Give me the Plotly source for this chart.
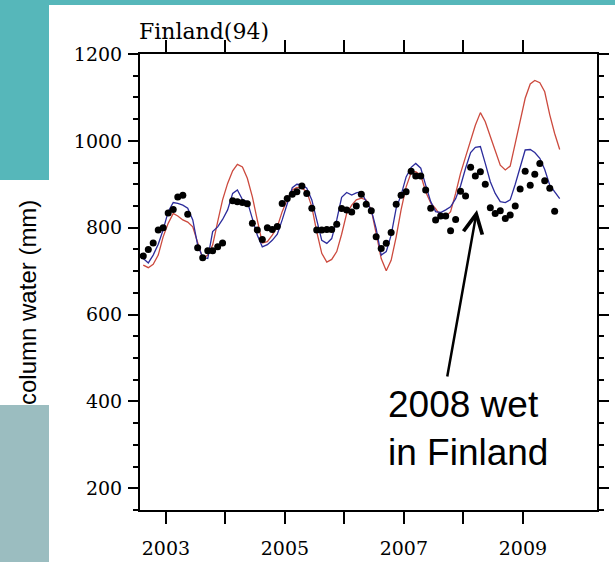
import pandas as pd
import plotly.graph_objects as go

# ---------------- data (monthly, Aug 2002 .. Aug 2009) ----------------
start_month = "2002-08-01"

red_model = [714, 708, 716, 737, 779, 810, 833, 827, 818, 813,
             802, 764, 729, 737, 760, 814, 864, 902, 931, 946,
             940, 914, 871, 818, 765, 768, 783, 802, 837, 865,
             887, 893, 891, 883, 848, 791, 741, 721, 727, 745,
             785, 833, 852, 864, 868, 864, 841, 787, 729, 701,
             725, 779, 841, 894, 927, 929, 921, 883, 857, 844,
             827, 825, 837, 879, 925, 963, 1002, 1036, 1065, 1044,
             1010, 975, 944, 933, 942, 994, 1048, 1098, 1131, 1139,
             1134, 1113, 1060, 1017, 980]

blue_model = [729, 719, 737, 762, 795, 837, 858, 856, 852, 845,
              818, 760, 732, 729, 791, 802, 819, 841, 879, 887,
              865, 860, 821, 783, 756, 761, 771, 785, 818, 856,
              892, 900, 899, 891, 864, 818, 771, 764, 775, 818,
              870, 881, 875, 880, 883, 860, 841, 798, 737, 745,
              783, 845, 875, 917, 939, 948, 937, 898, 860, 837,
              835, 841, 848, 867, 896, 937, 973, 985, 987, 948,
              906, 879, 860, 858, 864, 900, 942, 979, 980, 973,
              960, 934, 898, 883, 867]

obs_dots = [735, 750, 765, 795, 800, 834, 842, 871, 875, 831,
            None, 754, 731, 747, 747, 756, 765, None, 862, 860,
            858, 855, 810, 795, 773, 800, 796, 803, 856, 867,
            877, 883, 896, 879, 845, 795, 795, 796, 796, 808,
            844, 841, 836, 850, 877, 854, 839, 779, 752, 764,
            789, 854, 875, 883, 930, 919, 919, 887, 845, 818,
            827, 827, 793, 819, 884, 873, 939, 919, 929, 900,
            846, 833, 839, 821, 829, 850, 889, 930, 898, 923,
            948, 908, 891, 838]

year_ticks = ["2003-01-01", "2004-01-01", "2005-01-01", "2006-01-01",
              "2007-01-01", "2008-01-01", "2009-01-01"]
year_labels = ["2003", "", "2005", "", "2007", "", "2009"]
y_ticks = [200, 400, 600, 800, 1000, 1200]

line_dates = pd.date_range(start_month, periods=len(red_model), freq="MS") + pd.Timedelta(days=14)
dot_dates = line_dates[:len(obs_dots)]

# ---------------- figure ----------------
ncl_font = "DejaVu Serif"
fig = go.Figure()
fig.add_trace(go.Scatter(x=line_dates, y=red_model, mode="lines",
                         line=dict(color="#cc4a3e", width=1.3)))
fig.add_trace(go.Scatter(x=line_dates, y=blue_model, mode="lines",
                         line=dict(color="#2c2c9c", width=1.3)))
fig.add_trace(go.Scatter(x=dot_dates, y=obs_dots, mode="markers",
                         marker=dict(color="black", size=7)))

W, H = 615, 562
ml, mr, mt, mb = 140, 18, 54, 52
pw, ph = W - ml - mr, H - mt - mb

def px2x(px):
    return (px - ml) / pw

def py2y(py):
    return (H - mb - py) / ph

shapes = [
    dict(type="rect", xref="paper", yref="paper", x0=px2x(-5), x1=px2x(W + 5), y0=py2y(5), y1=py2y(-5),
         fillcolor="#56b7ba", line=dict(width=0), layer="below"),
    dict(type="rect", xref="paper", yref="paper", x0=px2x(-5), x1=px2x(49), y0=py2y(180), y1=py2y(-5),
         fillcolor="#56b7ba", line=dict(width=0), layer="below"),
    dict(type="rect", xref="paper", yref="paper", x0=px2x(-5), x1=px2x(49), y0=py2y(570), y1=py2y(405),
         fillcolor="#9bbdc0", line=dict(width=0), layer="below"),
]

annotations = [
    dict(text="Finland(94)", xref="paper", yref="paper", x=px2x(137), y=py2y(32),
         xanchor="left", yanchor="middle", showarrow=False,
         font=dict(family=ncl_font, size=22, color="black")),
    dict(text="column water (mm)", xref="paper", yref="paper", x=px2x(27), y=py2y(303),
         xanchor="center", yanchor="middle", textangle=-90, showarrow=False,
         font=dict(family="Liberation Sans, Arial", size=24, color="black")),
    dict(text="2008 wet<br>in Finland", xref="paper", yref="paper", x=px2x(386), y=py2y(428),
         xanchor="left", yanchor="middle", align="left", showarrow=False,
         font=dict(family="Liberation Sans, Arial", size=37, color="black")),
    dict(text="", xref="paper", yref="paper", x=px2x(477), y=py2y(210),
         ax=447 - 477, ay=378 - 210, axref="pixel", ayref="pixel",
         showarrow=True, arrowhead=5, arrowsize=1.5, arrowwidth=2.5, arrowcolor="black"),
]

fig.update_layout(
    width=W, height=H,
    margin=dict(l=ml, r=mr, t=mt, b=mb, autoexpand=False),
    paper_bgcolor="white", plot_bgcolor="white",
    showlegend=False,
    shapes=shapes,
    annotations=annotations,
    xaxis=dict(type="date", range=["2002-07-26", "2010-04-01"], automargin=False,
               tickvals=year_ticks, ticktext=year_labels,
               ticks="outside", ticklen=12, tickwidth=1.5, tickcolor="black",
               showline=True, linewidth=2, linecolor="black", mirror="ticks",
               showgrid=False, zeroline=False, ticklabelstandoff=8,
               tickfont=dict(family=ncl_font, size=19, color="black")),
    yaxis=dict(range=[150, 1200], tickvals=y_ticks, automargin=False,
               ticks="outside", ticklen=10, tickwidth=1.5, tickcolor="black",
               minor=dict(dtick=50, ticks="outside", ticklen=5, tickwidth=1.5, tickcolor="black"),
               showline=True, linewidth=2, linecolor="black", mirror="ticks",
               showgrid=False, zeroline=False, ticklabelstandoff=2,
               tickfont=dict(family=ncl_font, size=19, color="black")),
)

fig.write_html("out.html", config={"displayModeBar": False},
               post_script="document.body.style.margin='0';document.body.style.overflow='hidden';")
